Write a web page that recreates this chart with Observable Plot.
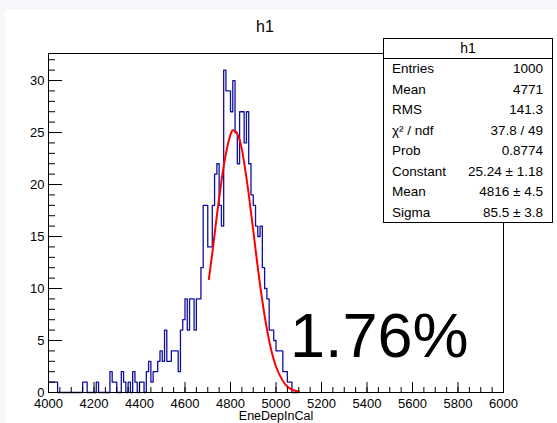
<!DOCTYPE html>
<html><head><meta charset="utf-8">
<script src="https://cdn.jsdelivr.net/npm/d3@7"></script>
<script src="https://cdn.jsdelivr.net/npm/@observablehq/plot@0.6"></script>
<style>
body{margin:0;background:#f5f7fb;font-family:"Liberation Sans",Arial,sans-serif;}
#canvas{position:absolute;left:5px;top:10px;width:552px;height:413px;background:#fff;overflow:hidden}
#title{position:absolute;left:0;top:0;width:520px;height:33px;line-height:34px;text-align:center;font-size:16px}
#chart{position:absolute;left:0;top:33px}
#stats{position:absolute;left:378px;top:28px;width:170px;height:185px;box-sizing:border-box;border:1px solid #000;background:#fff;font-size:13.5px}
#stats .hd{height:19px;line-height:19px;text-align:center;border-bottom:1px solid #000;font-size:14px}
#stats .row{display:flex;justify-content:space-between;height:20.5px;line-height:20.5px;padding:0 9px 0 8px}
#big{position:absolute;left:285px;top:294px;font-size:63px;line-height:1}
</style></head>
<body>
<div id="canvas">
  <div id="title"></div>
  <div id="chart"></div>
  <div id="stats"></div>
  <div id="big"></div>
</div>
<script>
const histTitle = "h1";
const xTitle = "EneDepInCal";
const bigText = "1.76%";
// histogram bins: 10-unit bins starting at 4000
const binWidth = 10;
const counts = [
 1,1,1,1,0, 0,0,0,0,0, 0,0,0,0,0, 1,1,0,0,0,
 0,1,0,0,0, 0,0,2,1,1, 0,0,2,1,0, 1,0,2,1,0,
 1,1,0,2,3, 1,2,2,3,4, 3,6,3,3,4, 4,4,2,6,7,
 9,6,9,9,6, 9,9,12,18,18, 14,14,18,21,22, 18,16,31,29,29,
 27,30,25,22,27, 27,24,27,22,19, 18,16,15,16,12, 10,9,6,6,5,
 4,4,4,2,2, 1,1,0,0,0
];
// Gaussian fit curve
const fitX = [4705,4720,4740,4760,4780,4800,4816,4840,4860,4880,4900,4920,4940,4960,4980,5000,5020,5040,5060,5080,5100];
const fitY = [10.9,13.4,17.0,20.3,23.0,24.8,25.2,24.3,22.1,19.1,15.6,12.0,8.8,6.1,4.0,2.5,1.5,0.8,0.4,0.2,0.1];
// axis ticks
const xMajor = [4000,4200,4400,4600,4800,5000,5200,5400,5600,5800,6000];
const xMinor = d3.range(4000, 6001, 50);
const yMajor = [0,5,10,15,20,25,30];
const yMinor = d3.range(0, 33, 1);
// stats box
const statLabels = ["Entries","Mean","RMS","χ² / ndf","Prob","Constant","Mean","Sigma"];
const statValues = ["1000","4771","141.3","37.8 / 49","0.8774","25.24 ± 1.18","4816 ± 4.5","85.5 ± 3.8"];

document.getElementById("title").textContent = histTitle;
document.getElementById("big").textContent = bigText;
const st = document.getElementById("stats");
const hd = document.createElement("div"); hd.className = "hd"; hd.textContent = histTitle; st.appendChild(hd);
statLabels.forEach((l, i) => {
  const r = document.createElement("div"); r.className = "row";
  const a = document.createElement("span"); a.textContent = l;
  const b = document.createElement("span"); b.textContent = statValues[i];
  r.appendChild(a); r.appendChild(b); st.appendChild(r);
});

const W = 552, H = 380, mL = 43, mR = 54, mT = 10, mB = 31;
const fH = H - mT - mB, fW = W - mL - mR;
const hist = counts.map((c, i) => ({x: 4000 + i * binWidth, y: c}));
hist.push({x: 4000 + counts.length * binWidth, y: 0});
const fit = fitX.map((x, i) => ({x, y: fitY[i]}));

const chart = Plot.plot({
  width: W, height: H, marginLeft: mL, marginRight: mR, marginTop: mT, marginBottom: mB,
  x: {domain: [4000, 6000]},
  y: {domain: [0, 32.6]},
  style: {fontFamily: "'Liberation Sans', Arial, sans-serif", fontSize: "13px", background: "transparent", overflow: "visible", color: "#000"},
  marks: [
    Plot.line(hist, {x: "x", y: "y", curve: "step-after", stroke: "#10109e", strokeWidth: 1.3}),
    Plot.line(fit, {x: "x", y: "y", curve: "natural", stroke: "#ff0000", strokeWidth: 2}),
    Plot.frame({stroke: "#000", strokeWidth: 1}),
    Plot.tickX(xMinor, {x: d => d, insetTop: fH - 5, stroke: "#000"}),
    Plot.tickX(xMajor, {x: d => d, insetTop: fH - 10, stroke: "#000"}),
    Plot.tickY(yMinor, {y: d => d, insetRight: fW - 7, stroke: "#000"}),
    Plot.tickY(yMajor, {y: d => d, insetRight: fW - 14, stroke: "#000"}),
    Plot.axisX(xMajor, {tickSize: 0, tickPadding: 6, tickFormat: d => String(d), label: null, fontSize: 13}),
    Plot.axisY(yMajor, {tickSize: 0, tickPadding: 4, tickFormat: d => String(d), label: null, fontSize: 13}),
    Plot.text([xTitle], {frameAnchor: "bottom", dy: 19, lineAnchor: "top", text: d => d, fontSize: 12.5})
  ]
});
document.getElementById("chart").appendChild(chart);
</script>
</body></html>
